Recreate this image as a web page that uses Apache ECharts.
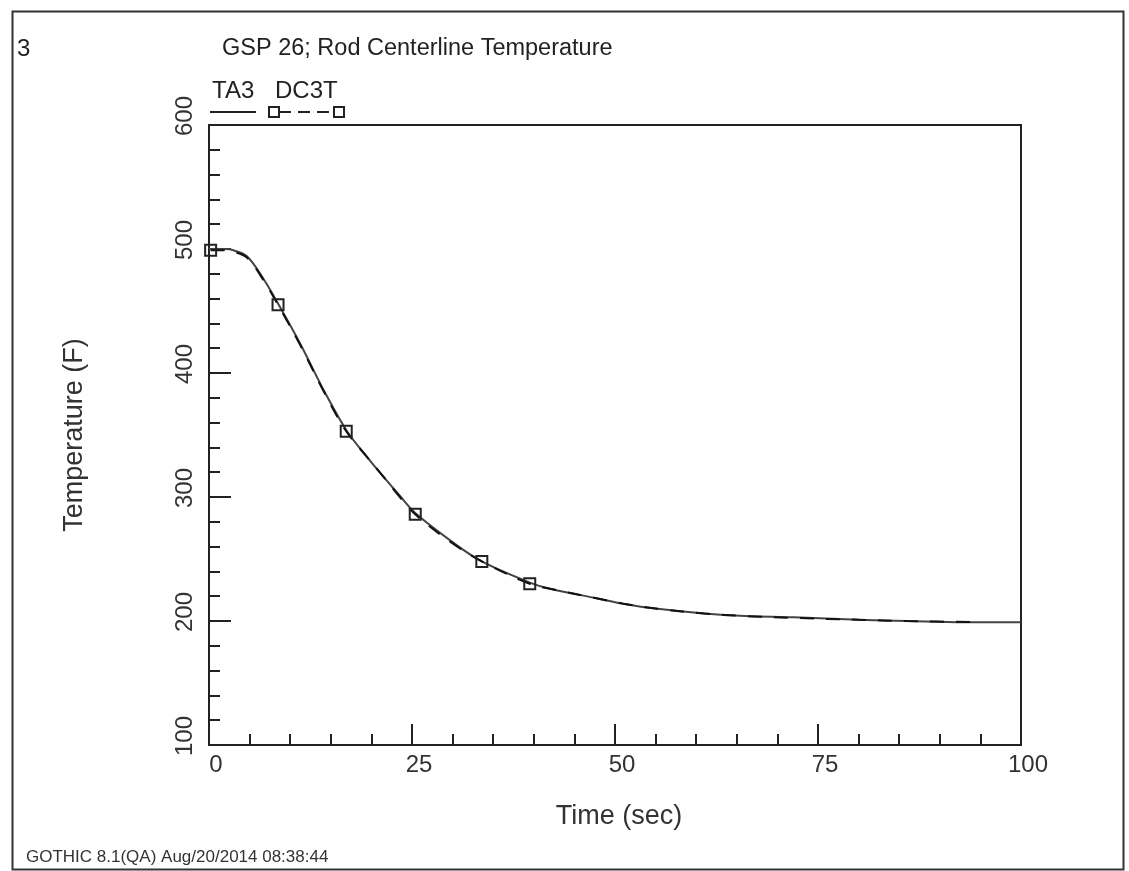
<!DOCTYPE html>
<html>
<head>
<meta charset="utf-8">
<script src="https://cdn.jsdelivr.net/npm/echarts@6/dist/echarts.min.js"></script>
<style>
html,body{margin:0;padding:0;background:#fff;}
#chart{width:1129px;height:871px;}
</style>
</head>
<body>
<div id="chart"></div>
<script>
// ---- Data ----
const ta3Time = [0, 2, 3, 4.7, 6.7, 8.5, 11.2, 14.3, 17, 19.5, 21.4, 23.5, 25.4, 29.7, 33.6, 39.5, 42, 48, 51, 55, 61, 66, 72, 80, 86, 93, 100];
const ta3Temp = [500, 500, 499, 494, 476, 456, 424, 384, 353, 332, 317, 301, 287, 265, 248, 231, 226, 218, 214, 210, 206, 204, 203, 201, 200, 199, 199];

const dc3tTime = [0.2, 2, 3, 4.7, 6.7, 8.5, 11.2, 14.3, 16.9, 19.5, 21.4, 23.5, 25.4, 29.7, 33.6, 39.5, 42, 48, 51, 55, 61, 66, 72, 80, 86, 95];
const dc3tTemp = [499, 499, 498, 493, 475, 455, 423, 383, 353, 332, 317, 300, 286, 264, 248, 230, 226, 218, 214, 210, 206, 204, 202.5, 201, 200, 199];
const dc3tMarked = [1, 0, 0, 0, 0, 1, 0, 0, 1, 0, 0, 0, 1, 0, 1, 1, 0, 0, 0, 0, 0, 0, 0, 0, 0, 0];

const xTicks = [0, 25, 50, 75, 100];
const yTicks = [100, 200, 300, 400, 500, 600];

const titleText = 'GSP 26; Rod Centerline Temperature';
const pageNo = '3';
const footerText = 'GOTHIC 8.1(QA) Aug/20/2014 08:38:44';
const seriesNames = ['TA3', 'DC3T'];

// ---- Chart ----
const FONT = 'Liberation Sans, Arial, sans-serif';
const INK = '#222';
const chart = echarts.init(document.getElementById('chart'), null, {renderer: 'canvas'});

const ta3Data = ta3Time.map((t, i) => [t, ta3Temp[i]]);
const dc3tData = dc3tTime.map((t, i) => ({
  value: [t, dc3tTemp[i]],
  symbol: dc3tMarked[i] ? 'rect' : 'none'
}));

const option = {
  backgroundColor: '#fff',
  animation: false,
  title: [
    {text: pageNo, left: 12, top: 32, textStyle: {fontFamily: FONT, fontSize: 24, fontWeight: 'normal', color: INK}},
    {text: titleText, left: 217, top: 32, textStyle: {fontFamily: FONT, fontSize: 23.5, fontWeight: 'normal', color: INK}},
    {text: footerText, left: 21, top: 844, textStyle: {fontFamily: FONT, fontSize: 17, fontWeight: 'normal', color: '#333'}}
  ],
  grid: {left: 209, right: 108, top: 125, bottom: 126, show: true, borderColor: INK, borderWidth: 2, backgroundColor: 'transparent'},
  xAxis: {
    type: 'value', min: xTicks[0], max: xTicks[xTicks.length - 1], interval: xTicks[1] - xTicks[0],
    axisLine: {show: true, onZero: false, lineStyle: {color: INK, width: 2}},
    axisTick: {show: true, inside: true, length: 21, lineStyle: {color: INK, width: 2}},
    minorTick: {show: true, splitNumber: 5, length: 11, lineStyle: {color: INK, width: 2}},
    splitLine: {show: false},
    axisLabel: {fontFamily: FONT, fontSize: 24, color: '#333', margin: 8, padding: [0, 0, 0, 14]},
    name: 'Time (sec)', nameLocation: 'middle', nameGap: 58,
    nameTextStyle: {fontFamily: FONT, fontSize: 27, color: '#333', padding: [0, 0, 0, 8]}
  },
  yAxis: {
    type: 'value', min: yTicks[0], max: yTicks[yTicks.length - 1], interval: yTicks[1] - yTicks[0],
    axisLine: {show: true, onZero: false, lineStyle: {color: INK, width: 2}},
    axisTick: {show: true, inside: true, length: 22, lineStyle: {color: INK, width: 2}},
    minorTick: {show: true, splitNumber: 5, length: 11, lineStyle: {color: INK, width: 2}},
    splitLine: {show: false},
    axisLabel: {fontFamily: FONT, fontSize: 24, color: '#333', rotate: 90, margin: 12, padding: [0, 0, 0, 18]},
    name: 'Temperature (F)', nameLocation: 'middle', nameGap: 121, nameRotate: 90,
    nameTextStyle: {fontFamily: FONT, fontSize: 27, color: '#333'}
  },
  series: [
    {
      name: seriesNames[0], type: 'line', data: ta3Data, smooth: 0.35, showSymbol: false, symbol: 'none',
      lineStyle: {color: '#444', width: 2}, z: 2
    },
    {
      name: seriesNames[1], type: 'line', data: dc3tData, smooth: 0.35,
      symbolSize: 11, showAllSymbol: true,
      itemStyle: {color: 'rgba(255,255,255,0)', borderColor: INK, borderWidth: 2},
      lineStyle: {color: '#111', width: 2, type: [14, 12]}, z: 3
    }
  ],
  graphic: [
    // outer frame
    {type: 'rect', left: 10, top: 9, shape: {width: 1111, height: 858}, style: {fill: 'none', stroke: '#333', lineWidth: 2}, silent: true},
    // legend (drawn)
    {type: 'text', left: 212, top: 79, style: {text: seriesNames[0], font: '24px ' + FONT, fill: INK}},
    {type: 'line', shape: {x1: 210, y1: 112, x2: 256, y2: 112}, style: {stroke: INK, lineWidth: 2}},
    {type: 'text', left: 275, top: 79, style: {text: seriesNames[1], font: '24px ' + FONT, fill: INK}},
    {type: 'line', shape: {x1: 279, y1: 112, x2: 334, y2: 112}, style: {stroke: INK, lineWidth: 2, lineDash: [12, 7]}},
    {type: 'rect', shape: {x: 269, y: 107, width: 10, height: 10}, style: {fill: '#fff', stroke: INK, lineWidth: 2}},
    {type: 'rect', shape: {x: 334, y: 107, width: 10, height: 10}, style: {fill: '#fff', stroke: INK, lineWidth: 2}}
  ]
};
chart.setOption(option);
</script>
</body>
</html>
